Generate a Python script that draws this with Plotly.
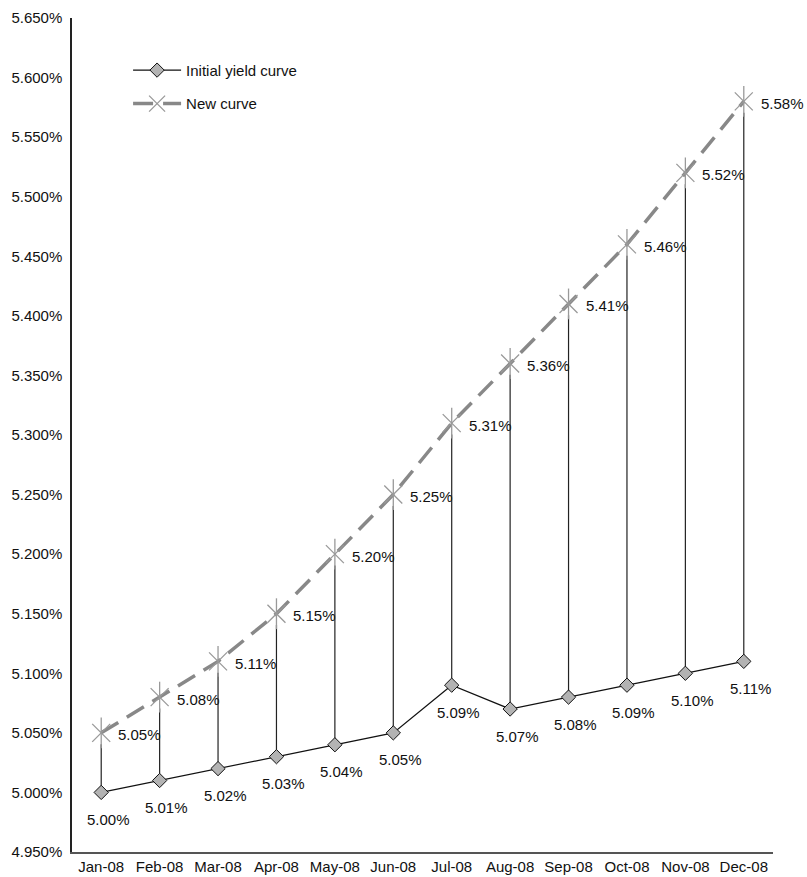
import plotly.graph_objects as go

months = ["Jan-08", "Feb-08", "Mar-08", "Apr-08", "May-08", "Jun-08",
          "Jul-08", "Aug-08", "Sep-08", "Oct-08", "Nov-08", "Dec-08"]
initial_curve = [5.00, 5.01, 5.02, 5.03, 5.04, 5.05, 5.09, 5.07, 5.08, 5.09, 5.10, 5.11]
new_curve = [5.05, 5.08, 5.11, 5.15, 5.20, 5.25, 5.31, 5.36, 5.41, 5.46, 5.52, 5.58]

FONT = "Liberation Sans, Arial, Helvetica, sans-serif"
GAP = 0.0095  # visual gap below the new-curve marker for the drop lines

fig = go.Figure()

# drop lines
dx, dy = [], []
for m, a, b in zip(months, new_curve, initial_curve):
    dx += [m, m, None]
    dy += [a - GAP, b, None]
fig.add_trace(go.Scatter(x=dx, y=dy, mode="lines", showlegend=False,
                         line=dict(color="#222222", width=1.2), hoverinfo="skip"))

# new curve
fig.add_trace(go.Scatter(x=months, y=new_curve, mode="lines+markers", name="New curve",
                         legendgroup="b", legendrank=2,
                         line=dict(color="#888888", width=3.5, dash="20px,10px"),
                         marker=dict(symbol="x-thin-open", size=18, color="#999999",
                                     line=dict(color="#999999", width=1.3))))
fig.add_trace(go.Scatter(x=months, y=new_curve, mode="markers", showlegend=False,
                         legendgroup="b",
                         marker=dict(symbol="line-ns-open", size=22, color="#999999",
                                     line=dict(color="#999999", width=1.3))))

# initial curve
fig.add_trace(go.Scatter(x=months, y=initial_curve, mode="lines+markers",
                         name="Initial yield curve", legendgroup="a", legendrank=1,
                         line=dict(color="#111111", width=1.2),
                         marker=dict(symbol="diamond", size=11, color="#b3b3b3",
                                     line=dict(color="#111111", width=1))))

annotations = []
for m, v in zip(months, initial_curve):
    annotations.append(dict(x=m, y=v, text=f"{v:.2f}%", showarrow=False,
                            xanchor="center", yanchor="middle", xshift=7, yshift=-27,
                            font=dict(family=FONT, size=15, color="#111111")))
for m, v in zip(months, new_curve):
    annotations.append(dict(x=m, y=v, text=f"{v:.2f}%", showarrow=False,
                            xanchor="left", yanchor="middle", xshift=15, yshift=-2,
                            font=dict(family=FONT, size=15, color="#111111")))

fig.update_layout(
    width=807, height=877,
    margin=dict(l=72, r=34, t=18, b=25, autoexpand=False),
    paper_bgcolor="white", plot_bgcolor="white",
    font=dict(family=FONT, size=15, color="#111111"),
    annotations=annotations,
    legend=dict(x=0.08, y=0.957, xanchor="left", yanchor="top",
                traceorder="grouped", tracegroupgap=11, itemwidth=48,
                bgcolor="rgba(0,0,0,0)", font=dict(family=FONT, size=15)),
    xaxis=dict(type="category", range=[-0.5, 11.5], showgrid=False, zeroline=False,
               showline=True, linecolor="#555555", linewidth=2, ticks="",
               tickfont=dict(family=FONT, size=15)),
    yaxis=dict(range=[4.95, 5.65], dtick=0.05, tick0=4.95, tickformat=".3f",
               ticksuffix="%", showgrid=False, zeroline=False, showline=True,
               linecolor="#222222", linewidth=1.5, ticks="outside", ticklen=5,
               tickcolor="rgba(0,0,0,0)", tickfont=dict(family=FONT, size=15)),
)

fig.write_html("out.html", config={"displayModeBar": False},
               post_script="document.body.style.margin='0';")
